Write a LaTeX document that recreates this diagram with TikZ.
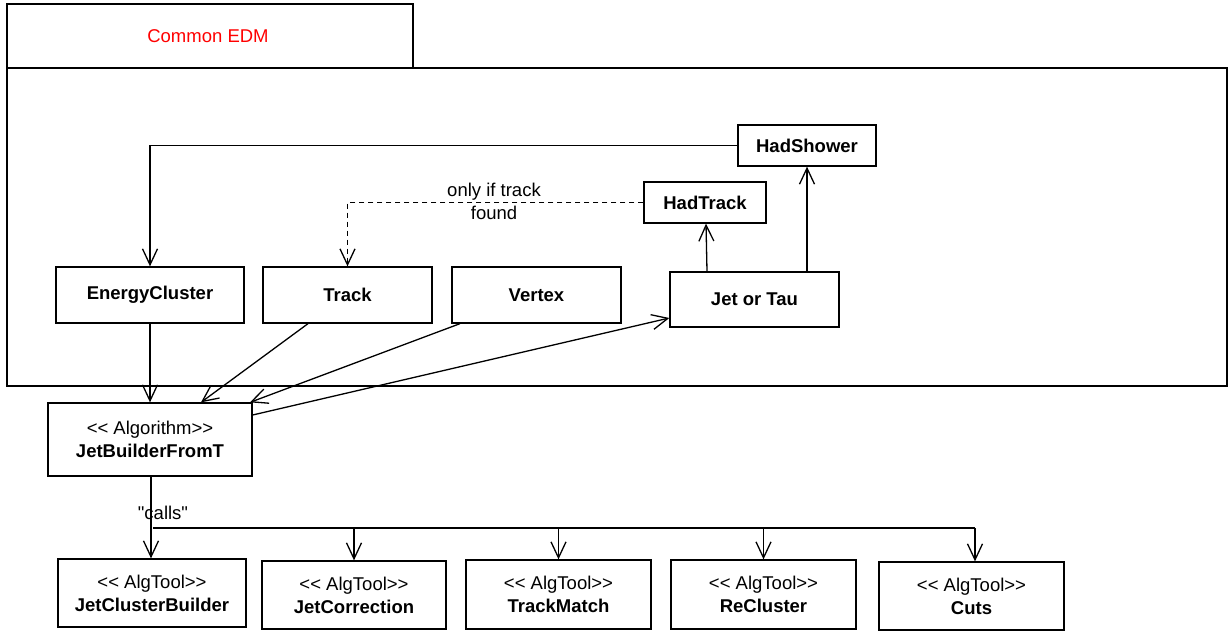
\documentclass[tikz,border=0pt]{standalone}
\usepackage{fontspec}
\setmainfont{Liberation Sans}[Ligatures=TeXOff]
\usetikzlibrary{arrows.meta,calc}
\begin{document}
\begin{tikzpicture}[x=1pt,y=-1pt,
  every node/.style={font=\fontsize{18.5}{23}\selectfont},
  line/.style={line width=1.3pt},
  box/.style={draw,line width=1.3pt,inner sep=0pt,align=center,font=\fontsize{18.5}{23}\selectfont\bfseries},
  link/.style={line,-{Straight Barb[length=16pt,width=15pt]}},
  opt/.style={link,dash pattern=on 5pt off 4pt}]
\useasboundingbox (0,0) rectangle (1228,631);

% package frame with its tab
\draw[line] (7,68) rectangle (1227,386);
\draw[line] (7,68) -- (7,4) -- (413,4) -- (413,68);
\node[text=red] (pkg) at (208,36) {Common EDM};

% event data classes
\node[box,minimum width=138,minimum height=41] (hadshower) at (807,145.5) {HadShower};
\node[box,minimum width=122,minimum height=41] (hadtrack) at (705,202.5) {HadTrack};
\node[box,minimum width=169,minimum height=55] (jettau) at (754.5,299.5) {Jet or Tau};
\node[box,minimum width=169,minimum height=56] (vertex) at (536.5,295) {Vertex};
\node[box,minimum width=188,minimum height=56] (energy) at (150,295) {EnergyCluster};
\node[box,minimum width=169,minimum height=56] (track) at (347.5,295) {Track};

% algorithm
\node[box,minimum width=204,minimum height=73] (builder) at (150,439.5)
  {{\mdseries << Algorithm>>}\\JetBuilderFromT};

% tools
\newcommand{\algtool}[1]{{\mdseries << AlgTool>>}\\#1}
\node[box,minimum width=188,minimum height=68] (jcb) at (152,593) {\algtool{JetClusterBuilder}};
\node[box,minimum width=184,minimum height=68] (jcorr) at (354,595) {\algtool{JetCorrection}};
\node[box,minimum width=185,minimum height=69] (tmatch) at (558.5,594.5) {\algtool{TrackMatch}};
\node[box,minimum width=185,minimum height=69] (recl) at (763.5,594.5) {\algtool{ReCluster}};
\node[box,minimum width=185,minimum height=68] (cuts) at (971.5,596) {\algtool{Cuts}};

% associations inside the package
\draw[link] (hadshower.west) -| (energy.north);
\draw[opt] (hadtrack.west) -| (track.north);
\node[align=center] (cond) at (494,201) {only if track\\found};
\draw[link] ($(jettau.north)+(-47.5,0)$) -- ($(hadtrack.south)+(1,0)$);
\draw[link] ($(jettau.north)+(52.5,0)$) -- (hadshower.south);

% inputs of the algorithm
\draw[link] (energy.south) -- (builder.north);
\draw[link] ($(track.south)+(-39.5,0)$) -- ($(builder.north)+(51,0)$);
\draw[link] ($(vertex.south)+(-76.5,0)$) -- ($(builder.north)+(100,0)$);
\draw[link] ($(builder.east)+(0,-24.5)$) -- ($(jettau.west)+(0,18.5)$);

% tool calls
\coordinate (busL) at (153,528);
\coordinate (busR) at (975,528);
\draw[link] ($(builder.south)+(1,0)$) -- ($(builder.south |- jcb.north)+(1,0)$);
\node (calls) at (163,513) {"calls"};
\draw[line] (busL) -- (busR);
\draw[link] (busL -| jcorr.north) -- (jcorr.north);
\draw[link] (busL -| tmatch.north) -- (tmatch.north);
\draw[link] (busL -| recl.north) -- (recl.north);
\draw[link] (busR) -- (cuts.north -| busR);
\end{tikzpicture}
\end{document}
